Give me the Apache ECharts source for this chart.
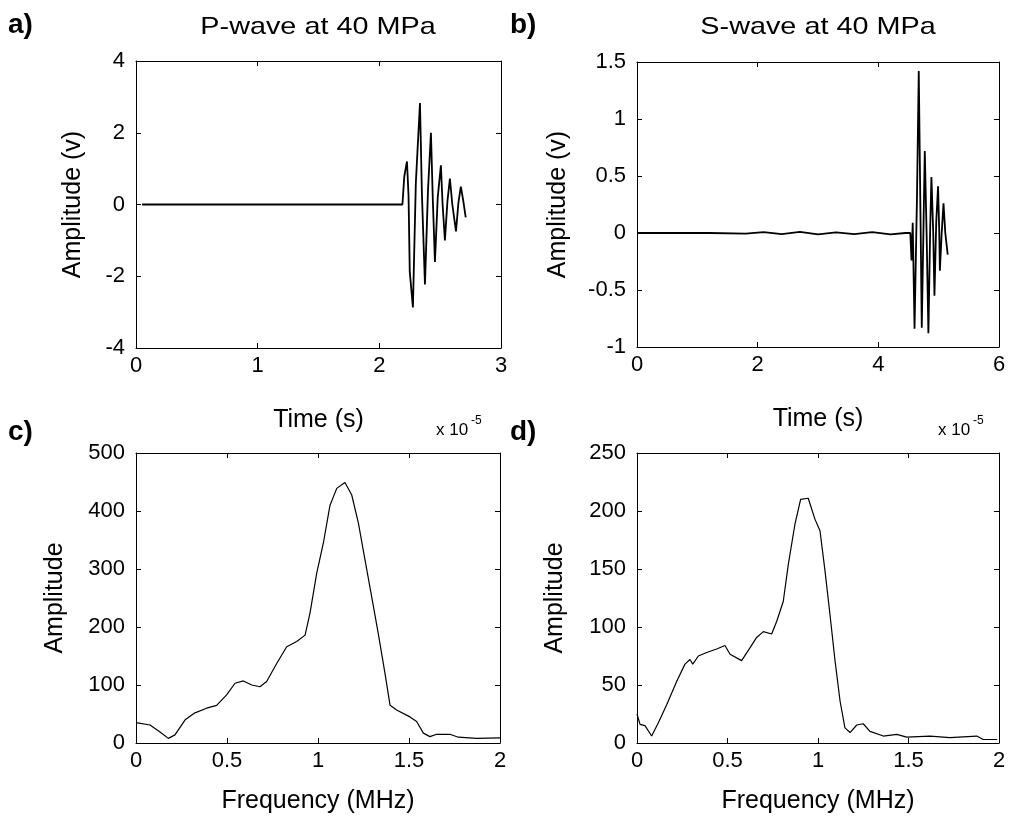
<!DOCTYPE html>
<html><head><meta charset="utf-8">
<script src="https://cdn.jsdelivr.net/npm/echarts@6/dist/echarts.min.js"></script>
<style>html,body{margin:0;padding:0;background:#fff}#c{width:1010px;height:820px}</style>
</head><body><div id="c"></div>
<script>
// Panel a: P-wave (time in units of 1e-5 s, amplitude in V)
const pTime = [0.05, 2.19, 2.205, 2.227, 2.24, 2.25, 2.276, 2.30, 2.334, 2.35, 2.375, 2.40, 2.424, 2.44, 2.457, 2.48, 2.506, 2.52, 2.539, 2.56, 2.58, 2.60, 2.63, 2.65, 2.67, 2.69, 2.71];
const pAmp  = [0, 0, 0.78, 1.2, 0.25, -1.87, -2.87, 0.6, 2.83, 0.3, -2.23, 0.4, 2.0, 0.1, -1.6, 0.2, 1.09, 0.0, -1.0, 0.1, 0.72, 0.0, -0.75, 0.05, 0.5, 0.1, -0.36];
// Panel b: S-wave
const sTime = [0, 1.2, 1.8, 2.1, 2.4, 2.7, 3.0, 3.3, 3.6, 3.9, 4.2, 4.45, 4.53, 4.55, 4.57, 4.60, 4.64, 4.67, 4.70, 4.72, 4.75, 4.77, 4.80, 4.83, 4.86, 4.88, 4.91, 4.93, 4.96, 4.99, 5.01, 5.02, 5.05, 5.08, 5.11, 5.15];
const sAmp  = [0, 0, -0.005, 0.008, -0.01, 0.01, -0.012, 0.006, -0.01, 0.008, -0.012, 0, 0, -0.24, 0.09, -0.84, 0.3, 1.42, 0.1, -0.83, 0.1, 0.72, 0.0, -0.88, 0.05, 0.49, 0.0, -0.55, 0.1, 0.41, 0.0, -0.33, 0.0, 0.26, 0.0, -0.19];
// Panel c: P-wave spectrum
const pFreq = [0, 0.077, 0.13, 0.178, 0.214, 0.27, 0.324, 0.388, 0.443, 0.498, 0.544, 0.59, 0.636, 0.681, 0.718, 0.773, 0.828, 0.883, 0.929, 0.956, 0.993, 1.029, 1.066, 1.103, 1.148, 1.185, 1.222, 1.258, 1.295, 1.331, 1.368, 1.396, 1.432, 1.505, 1.542, 1.579, 1.615, 1.652, 1.725, 1.771, 1.872, 2.0];
const pSpec = [35, 31, 19.5, 8, 14, 40, 52, 60, 65, 83, 103, 107, 100, 97, 106, 137, 166, 175, 186, 224, 293, 344, 410, 439, 449, 428, 379, 316, 252, 189, 120, 65, 57, 45, 37, 17, 11, 15, 15, 10, 8, 9];
// Panel d: S-wave spectrum
const sFreq = [0, 0.017, 0.044, 0.081, 0.118, 0.164, 0.219, 0.265, 0.293, 0.308, 0.339, 0.385, 0.44, 0.486, 0.514, 0.578, 0.624, 0.661, 0.698, 0.744, 0.772, 0.808, 0.836, 0.873, 0.904, 0.946, 0.983, 1.011, 1.039, 1.066, 1.094, 1.122, 1.149, 1.177, 1.214, 1.25, 1.287, 1.361, 1.435, 1.49, 1.619, 1.729, 1.877, 1.913, 1.99];
const sSpec = [25, 16, 15, 6, 17.5, 33, 53, 68, 72, 68, 75, 78, 81, 84, 76.5, 71, 82, 91, 96, 94, 105, 122, 154, 189, 210, 211, 193, 183, 148, 111, 71, 36, 13, 9, 15.5, 16.6, 10, 6, 7.5, 5, 6, 4.6, 6, 3, 3];

const FONT = 'Liberation Sans';
const grids = [
  {left:136, top:61, width:365, height:287},
  {left:637, top:62, width:362, height:285},
  {left:136, top:453, width:364, height:290},
  {left:637, top:453, width:362, height:290}
];
const xCfg = [
  {min:0, max:3, interval:1, name:'Time (s)', gap:60},
  {min:0, max:6, interval:2, name:'Time (s)', gap:60},
  {min:0, max:2, interval:0.5, name:'Frequency (MHz)', gap:46},
  {min:0, max:2, interval:0.5, name:'Frequency (MHz)', gap:46}
];
const yCfg = [
  {min:-4, max:4, interval:2, name:'Amplitude (v)', gap:50},
  {min:-1, max:1.5, interval:0.5, name:'Amplitude (v)', gap:66},
  {min:0, max:500, interval:100, name:'Amplitude', gap:68},
  {min:0, max:250, interval:50, name:'Amplitude', gap:69}
];
const lineBlack = {show:true, onZero:false, lineStyle:{color:'#000', width:1}};
const tickIn = {show:true, inside:true, length:5, lineStyle:{color:'#000'}};
const xAxes = [], yAxes = [];
for (let i = 0; i < 4; i++) {
  const xc = xCfg[i], yc = yCfg[i];
  xAxes.push({type:'value', gridIndex:i, position:'bottom', min:xc.min, max:xc.max, interval:xc.interval,
    name:xc.name, nameLocation:'middle', nameGap:xc.gap,
    nameTextStyle:{fontFamily:FONT, fontSize:25, color:'#000'},
    axisLine:lineBlack, axisTick:tickIn,
    axisLabel:{fontFamily:FONT, fontSize:22, color:'#000', margin:7, showMinLabel:true, showMaxLabel:true},
    splitLine:{show:false}});
  xAxes.push({type:'value', gridIndex:i, position:'top', min:xc.min, max:xc.max, interval:xc.interval,
    axisLine:lineBlack, axisTick:tickIn,
    axisLabel:{show:false}, splitLine:{show:false}});
  yAxes.push({type:'value', gridIndex:i, position:'left', min:yc.min, max:yc.max, interval:yc.interval,
    name:yc.name, nameLocation:'middle', nameGap:yc.gap, nameRotate:90,
    nameTextStyle:{fontFamily:FONT, fontSize:25, color:'#000'},
    axisLine:lineBlack, axisTick:tickIn,
    axisLabel:{fontFamily:FONT, fontSize:22, color:'#000', margin:11, showMinLabel:true, showMaxLabel:true},
    splitLine:{show:false}});
  yAxes.push({type:'value', gridIndex:i, position:'right', min:yc.min, max:yc.max, interval:yc.interval,
    axisLine:lineBlack, axisTick:tickIn,
    axisLabel:{show:false}, splitLine:{show:false}});
}
function zip(a, b) { return a.map((v, k) => [v, b[k]]); }
const seriesData = [zip(pTime, pAmp), zip(sTime, sAmp), zip(pFreq, pSpec), zip(sFreq, sSpec)];
const widths = [1.8, 1.8, 1.2, 1.2];
const series = seriesData.map((d, i) => ({
  type:'line', xAxisIndex:2*i, yAxisIndex:2*i, data:d, showSymbol:false, symbol:'none',
  lineStyle:{color:'#000', width:widths[i]}, animation:false, silent:true
}));
function txt(x, y, text, size, opts) {
  opts = opts || {};
  return {type:'text', x:x, y:y, scaleX:opts.sx || 1, silent:true,
    style:{text:text, x:0, y:0, textAlign:opts.align || 'center', textVerticalAlign:'middle',
      fontFamily:FONT, fontSize:size, fontWeight:opts.bold ? 'bold' : 'normal', fill:'#000'}};
}
const graphics = [
  txt(318, 27, 'P-wave at 40 MPa', 24, {sx:1.2}),
  txt(818, 27, 'S-wave at 40 MPa', 24, {sx:1.2}),
  txt(8, 25, 'a)', 28, {bold:true, align:'left'}),
  txt(510, 25, 'b)', 28, {bold:true, align:'left'}),
  txt(8, 432, 'c)', 28, {bold:true, align:'left'}),
  txt(510, 432, 'd)', 28, {bold:true, align:'left'}),
  txt(436, 430, 'x 10', 17, {align:'left'}),
  txt(471, 421, '-5', 12, {align:'left'}),
  txt(938, 430, 'x 10', 17, {align:'left'}),
  txt(973, 421, '-5', 12, {align:'left'})
];
const chart = echarts.init(document.getElementById('c'), null, {renderer:'canvas'});
chart.setOption({
  animation:false, backgroundColor:'#fff',
  grid:grids, xAxis:xAxes, yAxis:yAxes, series:series, graphic:graphics
});
</script></body></html>
